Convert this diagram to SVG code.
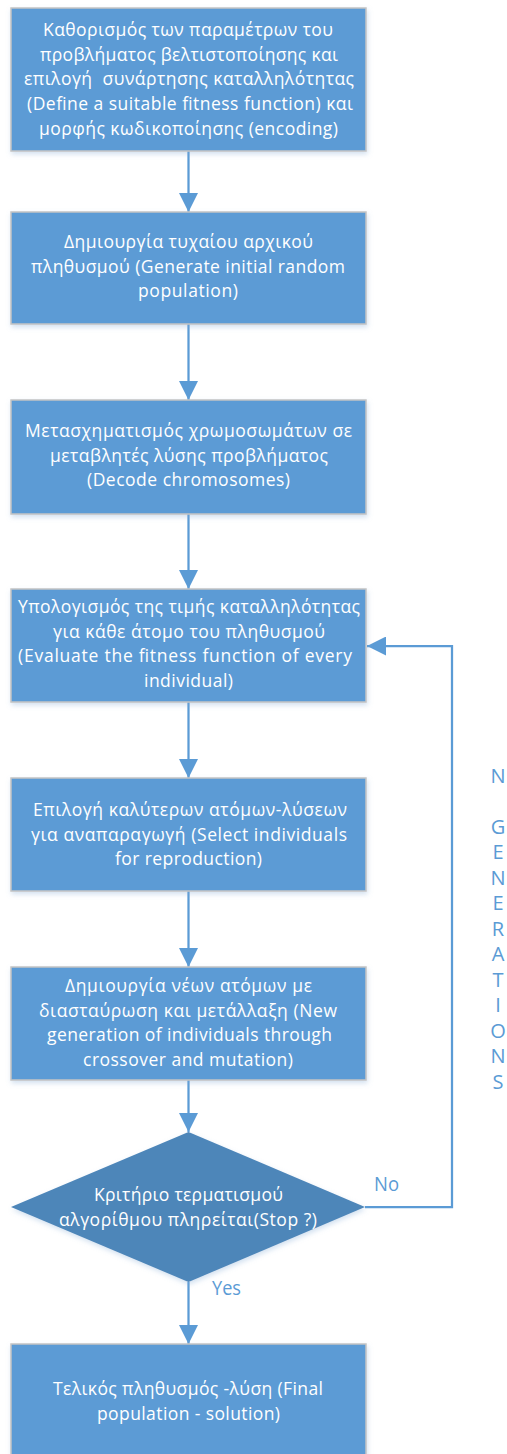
<svg xmlns="http://www.w3.org/2000/svg" width="507" height="1454" viewBox="0 0 507 1454">
  <style>
    .box { fill: #5B9BD5; stroke: #C4C4C4; stroke-width: 1.5; filter: url(#shadow); }
    .dec { fill: #4E86B9; filter: url(#shadow); }
    .txt { font-family: "Open Sans", "Noto Sans", "DejaVu Sans", sans-serif; font-size: 17.5px; fill: #FFFFFF; }
    .lbl { font-family: "Open Sans", "Noto Sans", "DejaVu Sans", sans-serif; font-size: 20px; fill: #5B9BD5; }
    .vl { text-anchor: middle; }
    .conn { fill: none; stroke: #5B9BD5; stroke-width: 2.25; marker-end: url(#arrow); }
  </style>
  <defs>
    <filter id="shadow" x="-10%" y="-10%" width="120%" height="130%">
      <feDropShadow dx="1" dy="2.5" stdDeviation="2.5" flood-color="#7FA7D3" flood-opacity="0.35"/>
    </filter>
    <marker id="arrow" markerUnits="userSpaceOnUse" markerWidth="19" markerHeight="19" viewBox="0 0 18 18" refX="18" refY="9" orient="auto">
      <path d="M0,0 L18,9 L0,18 Z" fill="#5B9BD5"/>
    </marker>
  </defs>

  <rect width="507" height="1454" fill="#FFFFFF"/>

  <!-- connectors -->
  <g id="connectors">
    <line class="conn" x1="188.5" y1="151" x2="188.5" y2="212"/>
    <line class="conn" x1="188.5" y1="324" x2="188.5" y2="400"/>
    <line class="conn" x1="188.5" y1="514" x2="188.5" y2="589"/>
    <line class="conn" x1="188.5" y1="702" x2="188.5" y2="778"/>
    <line class="conn" x1="188.5" y1="891" x2="188.5" y2="967"/>
    <line class="conn" x1="188.5" y1="1080" x2="188.5" y2="1132"/>
    <line class="conn" x1="188.5" y1="1282" x2="188.5" y2="1344"/>
    <polyline class="conn" points="365,1207 452,1207 452,646 367,646"/>
    <text class="lbl" x="374" y="1191" textLength="25" lengthAdjust="spacingAndGlyphs">No</text>
    <text class="lbl" x="212" y="1295" textLength="29" lengthAdjust="spacingAndGlyphs">Yes</text>
    <g class="lbl vl">
      <text x="498" y="782.5">N</text>
      <text x="498" y="833.5">G</text>
      <text x="498" y="859">E</text>
      <text x="498" y="884.5">N</text>
      <text x="498" y="910">E</text>
      <text x="498" y="935.5">R</text>
      <text x="498" y="961">A</text>
      <text x="498" y="986.5">T</text>
      <text x="498" y="1012">I</text>
      <text x="498" y="1037.5">O</text>
      <text x="498" y="1063">N</text>
      <text x="498" y="1088.5">S</text>
    </g>
  </g>

  <!-- step 1: problem definition -->
  <g id="define">
    <rect class="box" x="11" y="8" width="355" height="143"/>
    <text class="txt" x="43" y="36" textLength="290" lengthAdjust="spacing">Καθορισμός των παραμέτρων του</text>
    <text class="txt" x="40" y="60.7" textLength="298" lengthAdjust="spacing">προβλήματος βελτιστοποίησης και</text>
    <text class="txt" x="24" y="85.4" textLength="330" lengthAdjust="spacing" xml:space="preserve">επιλογή  συνάρτησης καταλληλότητας</text>
    <text class="txt" x="27" y="110" textLength="326" lengthAdjust="spacing">(Define a suitable fitness function) και</text>
    <text class="txt" x="39" y="134.8" textLength="299" lengthAdjust="spacing">μορφής κωδικοποίησης (encoding)</text>
  </g>

  <!-- step 2: initial population -->
  <g id="init">
    <rect class="box" x="11" y="212" width="355" height="112"/>
    <text class="txt" x="64" y="248" textLength="249" lengthAdjust="spacing">Δημιουργία τυχαίου αρχικού</text>
    <text class="txt" x="31" y="272.7" textLength="314" lengthAdjust="spacing">πληθυσμού (Generate initial random</text>
    <text class="txt" x="138" y="297.4" textLength="100" lengthAdjust="spacing">population)</text>
  </g>

  <!-- step 3: decode -->
  <g id="decode">
    <rect class="box" x="11" y="400" width="355" height="114"/>
    <text class="txt" x="25" y="437" textLength="327" lengthAdjust="spacing">Μετασχηματισμός χρωμοσωμάτων σε</text>
    <text class="txt" x="50" y="461.7" textLength="278" lengthAdjust="spacing">μεταβλητές λύσης προβλήματος</text>
    <text class="txt" x="87" y="486.4" textLength="203" lengthAdjust="spacing">(Decode chromosomes)</text>
  </g>

  <!-- step 4: evaluate -->
  <g id="evaluate">
    <rect class="box" x="11" y="589" width="355" height="113"/>
    <text class="txt" x="18" y="613" textLength="342" lengthAdjust="spacing">Υπολογισμός της τιμής καταλληλότητας</text>
    <text class="txt" x="53" y="637.7" textLength="272" lengthAdjust="spacing">για κάθε άτομο του πληθυσμού</text>
    <text class="txt" x="18" y="662.4" textLength="334" lengthAdjust="spacing">(Evaluate the fitness function of every</text>
    <text class="txt" x="144" y="687.1" textLength="89" lengthAdjust="spacing">individual)</text>
  </g>

  <!-- step 5: selection -->
  <g id="select">
    <rect class="box" x="11" y="778" width="355" height="113"/>
    <text class="txt" x="33" y="816" textLength="314" lengthAdjust="spacing">Επιλογή καλύτερων ατόμων-λύσεων</text>
    <text class="txt" x="31" y="840.7" textLength="316" lengthAdjust="spacing">για αναπαραγωγή (Select individuals</text>
    <text class="txt" x="115" y="865.4" textLength="147" lengthAdjust="spacing">for reproduction)</text>
  </g>

  <!-- step 6: crossover and mutation -->
  <g id="reproduce">
    <rect class="box" x="11" y="967" width="355" height="113"/>
    <text class="txt" x="65" y="992" textLength="247" lengthAdjust="spacing">Δημιουργία νέων ατόμων με</text>
    <text class="txt" x="39" y="1016.7" textLength="298" lengthAdjust="spacing">διασταύρωση και μετάλλαξη (New</text>
    <text class="txt" x="47" y="1041.4" textLength="285" lengthAdjust="spacing">generation of individuals through</text>
    <text class="txt" x="83" y="1066.1" textLength="210" lengthAdjust="spacing">crossover and mutation)</text>
  </g>

  <!-- decision: stop criterion -->
  <g id="stop">
    <polygon class="dec" points="188.5,1132 365,1207 188.5,1282 11,1207"/>
    <text class="txt" x="94" y="1201" textLength="189" lengthAdjust="spacing">Κριτήριο τερματισμού</text>
    <text class="txt" x="59" y="1226" textLength="258" lengthAdjust="spacing">αλγορίθμου πληρείται(Stop ?)</text>
  </g>

  <!-- final result -->
  <g id="final">
    <rect class="box" x="11" y="1344" width="355" height="113"/>
    <text class="txt" x="53" y="1395" textLength="270" lengthAdjust="spacing">Τελικός πληθυσμός -λύση (Final</text>
    <text class="txt" x="97" y="1420" textLength="183" lengthAdjust="spacing">population - solution)</text>
  </g>
</svg>
